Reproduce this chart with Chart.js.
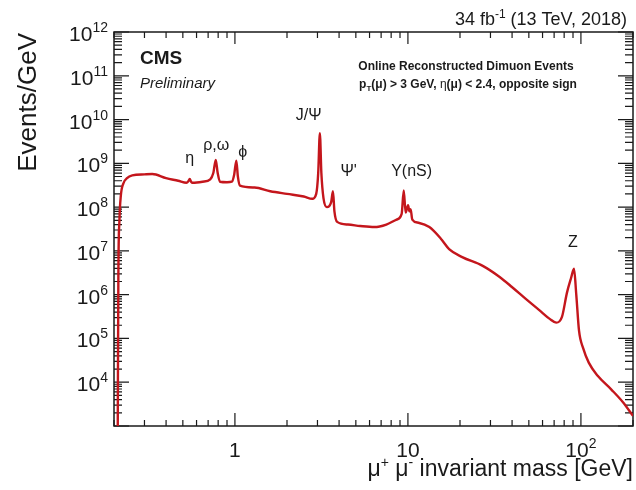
<!DOCTYPE html>
<html lang="en">
<head>
<meta charset="UTF-8">
<title>Dimuon invariant mass spectrum</title>
<script src="https://cdn.jsdelivr.net/npm/chart.js"></script>
<style>
  body { margin: 0; background: #fff; }
  canvas { display: block; }
</style>
</head>
<body>
<canvas id="massChart" width="636" height="490"></canvas>
<script>
// dimuon mass spectrum, events per GeV
const massGeV = [0.210, 0.212, 0.215, 0.219, 0.226, 0.238, 0.255, 0.30, 0.333, 0.40, 0.47, 0.525, 0.538, 0.548, 0.558, 0.57,
  0.65, 0.72, 0.75, 0.775, 0.795, 0.82, 0.90, 0.96, 0.99, 1.019, 1.04, 1.07, 1.3, 1.6, 2.0, 2.5, 2.8, 2.95, 3.03, 3.097,
  3.16, 3.25, 3.4, 3.6, 3.686, 3.76, 3.9, 4.5, 5.3, 6.4, 7.5, 8.6, 9.2, 9.46, 9.7, 10.02, 10.2, 10.36, 10.6, 11.5, 13.3,
  15.5, 17.3, 20.6, 26.9, 33.6, 39.9, 48, 57.2, 66, 72, 77.7, 83, 87.7, 91.2, 94, 97.5, 103, 111, 125, 150, 175, 200];
const eventsPerGeV = [3e2, 3e6, 5e7, 1.8e8, 3.4e8, 4.6e8, 5.3e8, 5.6e8, 5.7e8, 4.6e8, 4.0e8, 3.6e8, 3.9e8, 4.4e8, 3.8e8, 3.6e8,
  3.8e8, 4.3e8, 6e8, 1.2e9, 6e8, 3.8e8, 3.7e8, 3.8e8, 5.5e8, 1.15e9, 5e8, 3.1e8, 2.8e8, 2.3e8, 2.0e8, 1.75e8, 1.55e8, 2.0e8, 6e8, 4.9e9,
  6e8, 1.6e8, 1.0e8, 1.3e8, 2.3e8, 8e7, 4.6e7, 4.0e7, 3.7e7, 3.5e7, 4.0e7, 5.2e7, 7e7, 2.4e8, 7.5e7, 1.1e8, 8e7, 9e7, 5.2e7, 4.4e7, 3.5e7,
  1.9e7, 1.1e7, 7.2e6, 4.6e6, 2.6e6, 1.5e6, 8.0e5, 4.5e5, 2.8e5, 2.3e5, 3.1e5, 1.1e6, 2.4e6, 3.9e6, 1.0e6, 1.5e5, 6e4, 2.8e4, 1.4e4, 6.8e3, 3.5e3, 1.7e3];

// axis labels (powers of ten)
const yTickExps = [4, 5, 6, 7, 8, 9, 10, 11, 12];
const xTickExps = [0, 1, 2];

// resonance names and where their labels sit (mass, events/GeV)
const peakNames = ['η', 'ρ,ω', 'ϕ', 'J/Ψ', "Ψ'", 'Υ(nS)', 'Z'];
const peakLabelMass = [0.548, 0.78, 1.11, 2.67, 4.54, 10.5, 89.9];
const peakLabelLevel = [1e9, 2e9, 1.4e9, 1e10, 5.1e8, 5.1e8, 1.2e7];

const FONT = '"Liberation Sans", Arial, sans-serif';
const INK = '#1a1a1a';

// draws a run of text pieces; each piece: [text, size, style, dy]
function drawRich(ctx, parts, x, y, align) {
  let total = 0;
  const widths = parts.map(p => {
    ctx.font = (p[2] || '') + ' ' + p[1] + 'px ' + FONT;
    const w = ctx.measureText(p[0]).width;
    total += w;
    return w;
  });
  let cx = align === 'right' ? x - total : align === 'center' ? x - total / 2 : x;
  ctx.textAlign = 'left';
  ctx.textBaseline = 'alphabetic';
  parts.forEach((p, i) => {
    ctx.font = (p[2] || '') + ' ' + p[1] + 'px ' + FONT;
    ctx.fillText(p[0], cx, y + (p[3] || 0));
    cx += widths[i];
  });
}

function logTicks(min, max) {
  const major = [], minor = [];
  for (let e = Math.floor(Math.log10(min)); e <= Math.ceil(Math.log10(max)); e++) {
    for (let m = 1; m <= 9; m++) {
      const v = m * Math.pow(10, e);
      if (v < min * 0.999 || v > max * 1.001) continue;
      (m === 1 ? major : minor).push(v);
    }
  }
  return { major, minor };
}

const framePlugin = {
  id: 'frame',
  beforeDatasetsDraw(chart) {
    const { ctx, chartArea: a, scales: { x, y } } = chart;
    ctx.save();
    ctx.strokeStyle = INK;
    ctx.lineWidth = 1.5;
    ctx.strokeRect(a.left, a.top, a.right - a.left, a.bottom - a.top);
    ctx.lineWidth = 1.2;
    ctx.beginPath();
    const yt = logTicks(y.min, y.max);
    yt.major.forEach(v => {
      const p = y.getPixelForValue(v);
      ctx.moveTo(a.left, p); ctx.lineTo(a.left + 15, p);
      ctx.moveTo(a.right, p); ctx.lineTo(a.right - 15, p);
    });
    yt.minor.forEach(v => {
      const p = y.getPixelForValue(v);
      ctx.moveTo(a.left, p); ctx.lineTo(a.left + 8, p);
      ctx.moveTo(a.right, p); ctx.lineTo(a.right - 8, p);
    });
    const xt = logTicks(x.min, x.max);
    xt.major.forEach(v => {
      const p = x.getPixelForValue(v);
      ctx.moveTo(p, a.bottom); ctx.lineTo(p, a.bottom - 13);
      ctx.moveTo(p, a.top); ctx.lineTo(p, a.top + 12);
    });
    xt.minor.forEach(v => {
      const p = x.getPixelForValue(v);
      ctx.moveTo(p, a.bottom); ctx.lineTo(p, a.bottom - 6);
      ctx.moveTo(p, a.top); ctx.lineTo(p, a.top + 6);
    });
    ctx.stroke();
    ctx.restore();
  },
  afterDraw(chart) {
    const { ctx, chartArea: a, scales: { x, y } } = chart;
    ctx.save();
    ctx.fillStyle = INK;

    // y axis labels
    yTickExps.forEach(e => {
      const p = y.getPixelForValue(Math.pow(10, e));
      drawRich(ctx, [['10', 21], [String(e), 14, '', -9]], a.left - 6, p + 9, 'right');
    });
    // x axis labels
    xTickExps.forEach(e => {
      const p = x.getPixelForValue(Math.pow(10, e));
      const parts = e === 0 ? [['1', 21]] : e === 1 ? [['10', 21]] : [['10', 21], [String(e), 14, '', -9]];
      drawRich(ctx, parts, p, a.bottom + 31, 'center');
    });

    // axis titles
    drawRich(ctx, [['μ', 23], ['+', 14, '', -9], [' μ', 23], ['-', 14, '', -9], [' invariant mass [GeV]', 23]],
      a.right, 476, 'right');
    ctx.save();
    ctx.translate(36, 33);
    ctx.rotate(-Math.PI / 2);
    drawRich(ctx, [['Events/GeV', 26]], 0, 0, 'right');
    ctx.restore();

    // header and labels
    drawRich(ctx, [['34 fb', 18], ['-1', 12, '', -7], [' (13 TeV, 2018)', 18]], a.right - 6, 25, 'right');
    drawRich(ctx, [['CMS', 19, 'bold']], 140, 64, 'left');
    drawRich(ctx, [['Preliminary', 15, 'italic']], 140, 88, 'left');
    drawRich(ctx, [['Online Reconstructed Dimuon Events', 12, 'bold']], 466, 70, 'center');
    drawRich(ctx, [['p', 12, 'bold'], ['T', 8, 'bold', 3], ['(μ) > 3 GeV, ', 12, 'bold'], ['η', 12], ['(μ) < 2.4, opposite sign', 12, 'bold']],
      468, 88, 'center');

    // resonance labels
    peakNames.forEach((name, i) => {
      drawRich(ctx, [[name, 16]], x.getPixelForValue(peakLabelMass[i]), y.getPixelForValue(peakLabelLevel[i]), 'center');
    });
    ctx.restore();
  }
};

new Chart(document.getElementById('massChart'), {
  type: 'line',
  data: {
    datasets: [{
      data: massGeV.map((m, i) => ({ x: m, y: eventsPerGeV[i] })),
      borderColor: '#c4161c',
      borderWidth: 2.4,
      pointRadius: 0,
      cubicInterpolationMode: 'monotone',
      fill: false
    }]
  },
  options: {
    responsive: false,
    animation: false,
    layout: { padding: { left: 114, top: 32, right: 3, bottom: 64 } },
    plugins: { legend: { display: false }, tooltip: { enabled: false } },
    scales: {
      x: {
        type: 'logarithmic', min: 0.2, max: 200,
        grid: { display: false }, border: { display: false }, ticks: { display: false },
        afterFit(s) { s.height = 0; }
      },
      y: {
        type: 'logarithmic', min: 1e3, max: 1e12,
        grid: { display: false }, border: { display: false }, ticks: { display: false },
        afterFit(s) { s.width = 0; }
      }
    }
  },
  plugins: [framePlugin]
});
</script>
</body>
</html>
